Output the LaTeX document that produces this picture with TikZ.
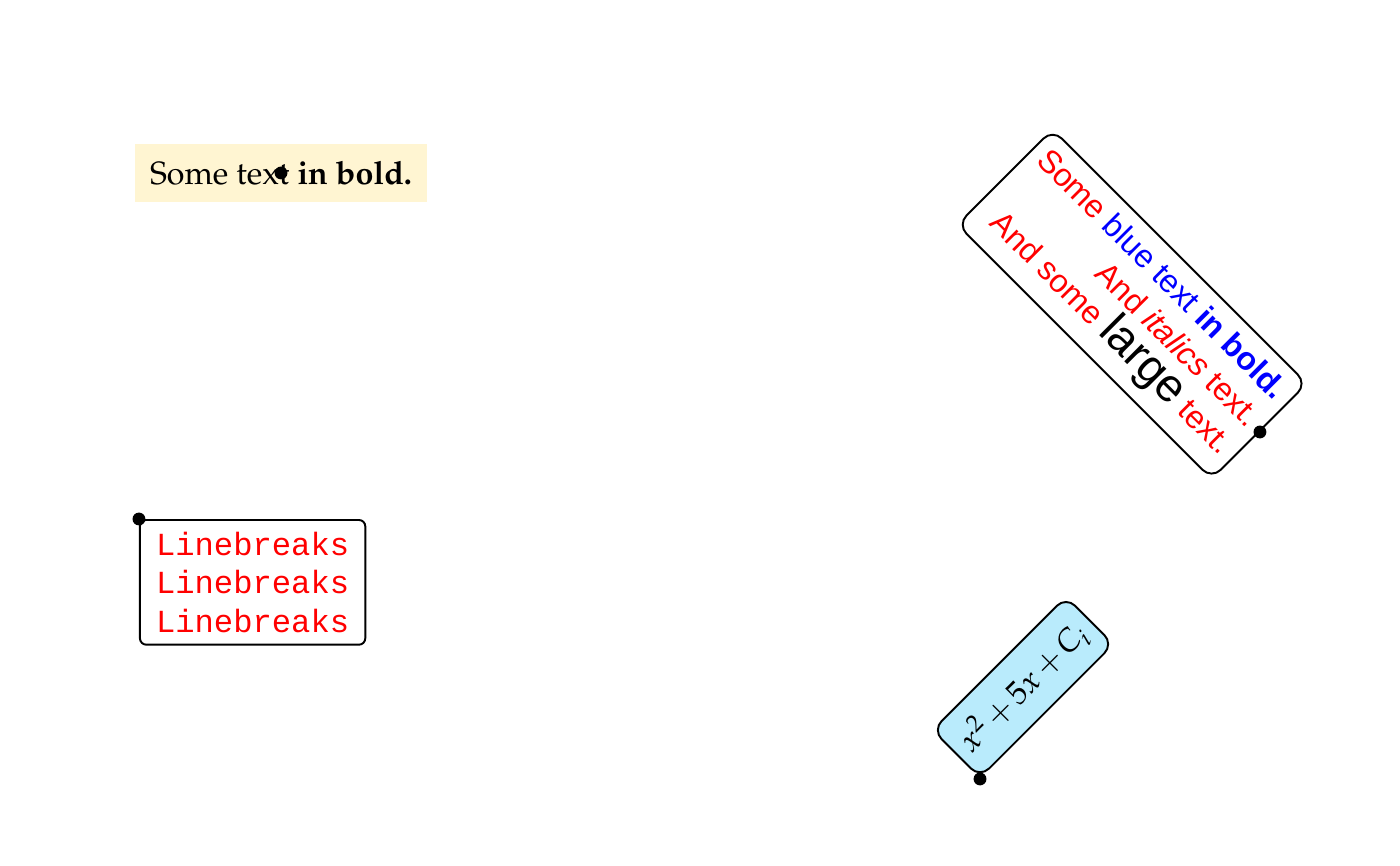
\documentclass[tikz,border=0pt]{standalone}
\usepackage[T1]{fontenc}
\usepackage{mathpazo}
\usepackage[no-math]{fontspec}
\setsansfont{Liberation Sans}
\setmonofont{Liberation Mono}
\newcommand{\palfont}{\fontencoding{T1}\fontfamily{ppl}\selectfont}
\definecolor{boldbg}{RGB}{255,245,210}
\definecolor{mathbg}{RGB}{185,235,252}

\begin{document}
\begin{tikzpicture}[dot/.style={circle,fill,inner sep=0pt,minimum size=4pt},
    box/.style={draw,semithick,rounded corners=4pt}]
   \useasboundingbox (0,0) rectangle (15.284,9.454);
   \coordinate (p_1) at (3.068,7.566);
   \coordinate (p_2) at (13.755,4.738);
   \coordinate (p_3) at (1.517,3.788);
   \coordinate (p_4) at (10.699,0.950);
   \node[fill=boldbg,inner sep=4.7pt,minimum height=18pt,anchor=center,font=\palfont] (t_1) at (p_1)
      {Some text \textbf{in bold.}};
   \node[box,rotate=-45,anchor=east,align=right,inner ysep=3.8pt,font=\sffamily,text=red] (t_2) at (p_2)
      {Some {\color{blue}blue text \textbf{in bold.}}\\
       And \textit{italics} text.\\
       And some {\color{black}\Large large} text.};
   \node[box,rounded corners=2pt,anchor=north west,align=left,inner xsep=5pt,inner ysep=3.7pt,font=\ttfamily,text=red] (t_3) at (p_3)
      {Linebreaks\\Linebreaks\\Linebreaks};
   \node[box,fill=mathbg,rotate=45,anchor=south west,inner xsep=3.3pt,inner ysep=5pt,font={\medmuskip=2.5mu}] (t_4) at (p_4)
      {$x^2 + 5x + C_i$};
   \foreach \p in {p_1,p_2,p_3,p_4}
      \node[dot] at (\p) {};
\end{tikzpicture}
\end{document}
